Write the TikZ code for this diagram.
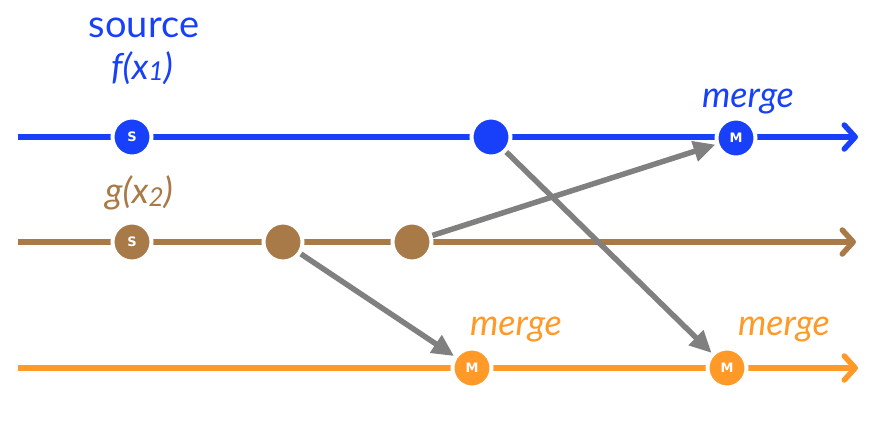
\documentclass[tikz,border=0pt]{standalone}
\usepackage{fontspec}
\setmainfont{Lato}
\newfontfamily\lblfont{DejaVu Sans}
\usetikzlibrary{arrows.meta}
\definecolor{cblue}{RGB}{24,64,250}
\definecolor{cbrown}{RGB}{168,122,72}
\definecolor{corange}{RGB}{255,153,40}
\definecolor{cgray}{RGB}{128,128,128}
\tikzset{
  stream/.style={draw=#1, line width=5.5pt, -{Straight Barb[length=11pt,width=24pt,line cap=round,line join=round]}},
  ev/.style={circle, fill=#1, draw=white, line width=4pt, minimum size=39pt, inner sep=0pt, text=white, font=\lblfont\fontsize{13}{13}\selectfont\bfseries},
  flow/.style={draw=cgray, line width=5.5pt, -{Triangle[length=22pt,width=20pt]}},
  title/.style={text=#1, anchor=base, inner sep=0pt, font=\fontsize{36}{36}\selectfont\itshape},
}
\begin{document}
\begin{tikzpicture}[x=1pt,y=-1pt]
\useasboundingbox (0,0) rectangle (896,440);
% stream endpoints
\coordinate (b0) at (18,137);  \coordinate (b1) at (858,137);
\coordinate (g0) at (18,242);  \coordinate (g1) at (856,242);
\coordinate (o0) at (18,368);  \coordinate (o1) at (858,368);
\path[stream=cblue] (b0) -- (b1);
\path[stream=cbrown] (g0) -- (g1);
\path[stream=corange] (o0) -- (o1);
% events
\node[ev=cblue] (bs) at (132,137) {S};
\node[ev=cblue] (bd) at (491,137) {};
\node[ev=cblue] (bm) at (736,138) {M};
\node[ev=cbrown] (gs) at (132,242) {S};
\node[ev=cbrown] (gd1) at (283,242) {};
\node[ev=cbrown] (gd2) at (412,242) {};
\node[ev=corange] (om1) at (472,368) {M};
\node[ev=corange] (om2) at (727,368) {M};
% labels
\node[title=cblue, font=\fontsize{38}{38}\selectfont\upshape] (tsrc) at (144,37) {source};
\node[title=cblue] (tf) at (142,79) {f(x\raisebox{-1pt}{\fontsize{26}{26}\selectfont 1})};
\node[title=cbrown] (tg) at (139,203) {g(x\raisebox{-3pt}{\fontsize{26}{26}\selectfont 2})};
\node[title=cblue] (tm1) at (748,107) {merge};
\node[title=corange] (tm2) at (516,335) {merge};
\node[title=corange] (tm3) at (784,335) {merge};
% flows
\draw[flow] (bd) -- (om2);
\draw[flow] (gd2) -- (bm);
\draw[flow] (gd1) -- (om1);
\end{tikzpicture}
\end{document}
